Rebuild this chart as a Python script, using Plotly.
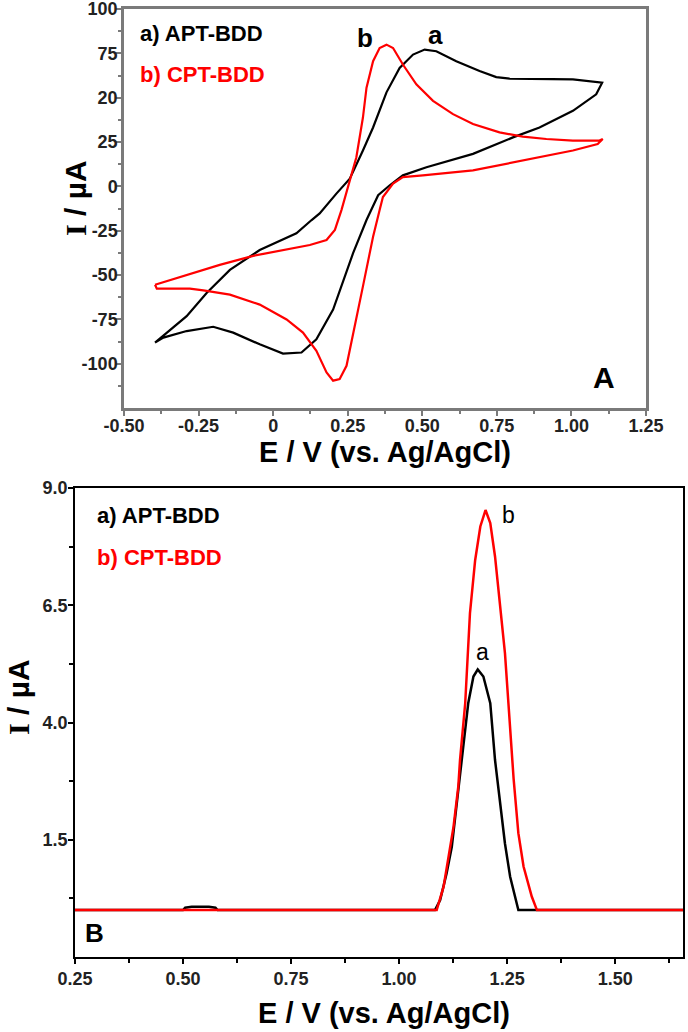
import plotly.graph_objects as go

# ---- Panel A: cyclic voltammograms (E in V, I in uA) ----
apt_cv_fwd_e = [-0.396, -0.29, -0.223, -0.145, -0.045, 0.078, 0.129, 0.156, 0.212, 0.257,
                0.301, 0.335, 0.38, 0.424, 0.469, 0.508, 0.547, 0.614, 0.692, 0.748,
                0.793, 0.90, 1.005, 1.103]
apt_cv_fwd_i = [-88.1, -73.2, -60.1, -47.1, -35.9, -26.5, -19.0, -15.3, -4.1, 4.3,
                20.2, 33.2, 53.0, 66.8, 74.3, 77.1, 76.2, 70.6, 65.0, 61.6,
                60.7, 60.5, 60.3, 58.4]
apt_cv_rev_e = [1.103, 1.083, 1.005, 0.893, 0.804, 0.67, 0.514, 0.435, 0.391, 0.352,
                0.313, 0.268, 0.201, 0.145, 0.095, 0.033, -0.045, -0.134, -0.201, -0.29,
                -0.368, -0.396]
apt_cv_rev_i = [58.4, 51.9, 42.6, 33.2, 27.6, 18.3, 10.8, 6.2, 0.6, -5.0,
                -19.0, -37.7, -69.5, -86.3, -93.7, -94.3, -89.1, -82.5, -79.2, -81.6,
                -85.3, -88.1]

cpt_cv_fwd_e = [-0.396, -0.29, -0.179, -0.067, 0.045, 0.123, 0.179, 0.207, 0.229, 0.251,
                0.279, 0.301, 0.313, 0.335, 0.357, 0.38, 0.402, 0.435, 0.48, 0.536,
                0.603, 0.67, 0.759, 0.837, 0.916, 1.005, 1.094, 1.105]
cpt_cv_fwd_i = [-55.5, -49.9, -44.3, -39.2, -35.5, -33.1, -30.3, -24.6, -13.4, -0.4,
                16.4, 38.8, 55.6, 70.6, 78.0, 79.9, 78.0, 68.7, 57.5, 48.2,
                40.7, 35.1, 30.4, 28.0, 26.7, 25.8, 25.8, 26.7]
cpt_cv_rev_e = [1.105, 1.088, 1.005, 0.893, 0.782, 0.67, 0.502, 0.435, 0.402, 0.368,
                0.357, 0.335, 0.301, 0.268, 0.246, 0.223, 0.201, 0.179, 0.145, 0.10,
                0.045, -0.045, -0.145, -0.234, -0.279, -0.39, -0.396]
cpt_cv_rev_i = [26.7, 23.9, 20.2, 16.4, 12.7, 9.0, 6.2, 5.2, 1.5, -6.0,
                -13.4, -28.4, -56.4, -84.4, -101.2, -108.7, -109.6, -104.9, -92.8, -82.5,
                -75.1, -66.7, -61.1, -58.7, -57.7, -57.7, -55.5]

cv_xticks = [-0.5, -0.25, 0, 0.25, 0.5, 0.75, 1.0, 1.25]
cv_xlabels = ['-0.50', '-0.25', '0', '0.25', '0.50', '0.75', '1.00', '1.25']
cv_xminor = [-0.375, -0.125, 0.125, 0.375, 0.625, 0.875, 1.125]
cv_yticks = [100, 75, 50, 25, 0, -25, -50, -75, -100]
cv_ylabels = ['100', '75', '20', '25', '0', '-25', '-50', '-75', '-100']
cv_yminor = [87.5, 62.5, 37.5, 12.5, -12.5, -37.5, -62.5, -87.5, -112.5]

# ---- Panel B: differential pulse voltammograms ----
apt_dpv_e = [0.25, 0.50, 0.505, 0.52, 0.56, 0.575, 0.58, 1.083, 1.095, 1.110, 1.122,
             1.134, 1.145, 1.160, 1.172, 1.182, 1.195, 1.211, 1.222, 1.234, 1.245,
             1.257, 1.269, 1.276, 1.66]
apt_dpv_i = [0, 0, 0.05, 0.07, 0.07, 0.05, 0, 0, 0.215, 0.785, 1.35,
             2.28, 3.2, 4.41, 4.98, 5.13, 4.98, 4.41, 3.2, 2.28, 1.42,
             0.71, 0.215, 0, 0]
cpt_dpv_e = [0.25, 1.087, 1.103, 1.114, 1.126, 1.137, 1.141, 1.153, 1.164, 1.176,
             1.188, 1.20, 1.211, 1.222, 1.234, 1.245, 1.253, 1.265, 1.276, 1.288,
             1.307, 1.319, 1.66]
cpt_dpv_i = [0, 0, 0.5, 1.07, 1.78, 2.63, 3.2, 4.41, 6.33, 7.46,
             8.18, 8.53, 8.25, 7.54, 6.54, 5.48, 4.41, 2.8, 1.64, 0.93,
             0.29, 0, 0]

dpv_xticks = [0.25, 0.5, 0.75, 1.0, 1.25, 1.5]
dpv_xlabels = ['0.25', '0.50', '0.75', '1.00', '1.25', '1.50']
dpv_xminor = [0.375, 0.625, 0.875, 1.125, 1.375, 1.625]
dpv_yticks = [1.5, 4.0, 6.5, 9.0]
dpv_ylabels = ['1.5', '4.0', '6.5', '9.0']
dpv_yminor = [0.25, 2.75, 5.25, 7.75]

W, H = 688, 1032
FONT = 'Arial, Liberation Sans, sans-serif'
SERIF = 'Times New Roman, Liberation Serif, serif'


def px(x, y):
    return x / W, 1 - y / H


fig = go.Figure()

fig.add_trace(go.Scatter(x=apt_cv_fwd_e + apt_cv_rev_e, y=apt_cv_fwd_i + apt_cv_rev_i,
                         mode='lines', line=dict(color='black', width=2.2),
                         xaxis='x', yaxis='y'))
fig.add_trace(go.Scatter(x=cpt_cv_fwd_e + cpt_cv_rev_e, y=cpt_cv_fwd_i + cpt_cv_rev_i,
                         mode='lines', line=dict(color='#ff0000', width=2.2),
                         xaxis='x', yaxis='y'))
fig.add_trace(go.Scatter(x=apt_dpv_e, y=apt_dpv_i, mode='lines',
                         line=dict(color='black', width=2.5), xaxis='x2', yaxis='y2'))
fig.add_trace(go.Scatter(x=cpt_dpv_e, y=cpt_dpv_i, mode='lines',
                         line=dict(color='#ff0000', width=2.5), xaxis='x2', yaxis='y2'))

tick_font = dict(family=FONT, size=18, color='#222222', weight='bold')
gray = '#7a7a7a'

common = dict(automargin=False, showgrid=False, zeroline=False, showline=True,
              mirror=True, tickmode='array', ticks='outside', ticklen=5,
              tickfont=tick_font, ticklabeloverflow='allow')

fig.update_layout(
    width=W, height=H,
    margin=dict(l=0, r=0, t=0, b=0),
    paper_bgcolor='white', plot_bgcolor='white',
    showlegend=False,
    xaxis=dict(domain=[124 / W, 646 / W], range=[-0.5, 1.25], anchor='y',
               linecolor=gray, linewidth=2.5, tickwidth=2, tickcolor=gray,
               tickvals=cv_xticks, ticktext=cv_xlabels, ticklabelstandoff=-5,
               minor=dict(tickmode='array', tickvals=cv_xminor, ticks='outside',
                          ticklen=3, tickwidth=1.5, tickcolor=gray), **common),
    yaxis=dict(domain=[1 - 408 / H, 1 - 9 / H], range=[-125, 100], anchor='x',
               linecolor=gray, linewidth=2.5, tickwidth=2, tickcolor=gray,
               tickvals=cv_yticks, ticktext=cv_ylabels, ticklabelstandoff=-5,
               minor=dict(tickmode='array', tickvals=cv_yminor, ticks='outside',
                          ticklen=3, tickwidth=1.5, tickcolor=gray), **common),
    xaxis2=dict(domain=[75 / W, 683 / W], range=[0.25, 1.657], anchor='y2',
                linecolor='black', linewidth=1.5, tickwidth=1.5, tickcolor='black',
                tickvals=dpv_xticks, ticktext=dpv_xlabels, ticklabelstandoff=0,
                minor=dict(tickmode='array', tickvals=dpv_xminor, ticks='outside',
                           ticklen=4, tickwidth=1.5, tickcolor='black'), **common),
    yaxis2=dict(domain=[1 - 957 / H, 1 - 488 / H], range=[-1, 9], anchor='x2',
                linecolor='black', linewidth=1.5, tickwidth=1.5, tickcolor='black',
                tickvals=dpv_yticks, ticktext=dpv_ylabels, ticklabelstandoff=-3,
                minor=dict(tickmode='array', tickvals=dpv_yminor, ticks='outside',
                           ticklen=4, tickwidth=1.5, tickcolor='black'), **common),
)

annotations = []


def note(text, x, y, size, color='black', bold=True, angle=0, xanchor='center'):
    ax, ay = px(x, y)
    annotations.append(dict(
        text=text, x=ax, y=ay, xref='paper', yref='paper', showarrow=False,
        xanchor=xanchor, yanchor='middle', textangle=angle,
        font=dict(family=FONT, size=size, color=color, weight='bold' if bold else 'normal')))


y_title = "<span style='font-family:" + SERIF + "'>I</span> / µA"
x_title = 'E / V (vs. Ag/AgCl)'

# panel A texts
note('a) APT-BDD', 138, 33, 22, xanchor='left')
note('b) CPT-BDD', 138, 74, 22, color='#ff0000', xanchor='left')
note('b', 365, 38, 26)
note('a', 435, 35, 26)
note('A', 604, 377, 30)
note(y_title, 75, 198, 30, angle=-90)
note(x_title, 385, 452, 29)

# panel B texts
note('a) APT-BDD', 95, 515, 22, xanchor='left')
note('b) CPT-BDD', 95, 557, 22, color='#ff0000', xanchor='left')
note('b', 508, 515, 23, bold=False)
note('a', 482, 652, 23, bold=False)
note('B', 94, 933, 26)
note(y_title, 18, 697, 30, angle=-90)
note(x_title, 384, 1013, 29)

fig.update_layout(annotations=annotations)

# drop the browser's default body margin so the figure fills the window exactly
fig.write_html('out.html', config={'displayModeBar': False},
               post_script="document.body.style.margin='0';")
